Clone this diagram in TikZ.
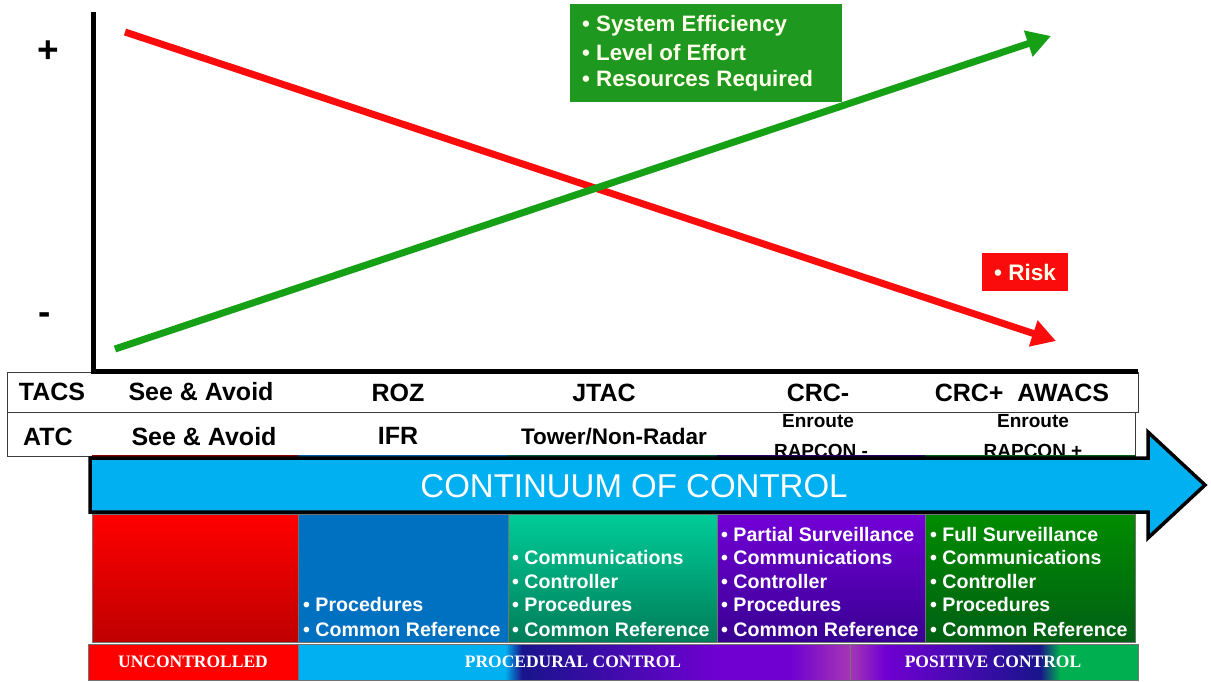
\documentclass[tikz,border=0pt]{standalone}
\usepackage{fontspec}
\setmainfont{Liberation Sans}
\newfontfamily\serifb{Liberation Serif}
\usetikzlibrary{arrows.meta}
\definecolor{cyanA}{RGB}{0,176,240}
\definecolor{riskred}{RGB}{250,12,12}
\definecolor{effgreen}{RGB}{30,152,30}
\definecolor{lineg}{RGB}{22,160,22}
\definecolor{navy}{RGB}{25,20,140}
\definecolor{purp}{RGB}{112,0,210}
\definecolor{pinkp}{RGB}{165,55,180}
\definecolor{posgreen}{RGB}{0,176,80}
\definecolor{boxblue}{RGB}{0,112,192}
\definecolor{tealtop}{RGB}{0,204,153}
\definecolor{tealbot}{RGB}{0,125,88}
\definecolor{purtop}{RGB}{115,0,215}
\definecolor{purbot}{RGB}{55,0,145}
\definecolor{grtop}{RGB}{0,140,0}
\definecolor{grbot}{RGB}{0,95,20}
\definecolor{tabline}{RGB}{60,60,60}
\definecolor{cream}{RGB}{255,255,235}
\begin{document}
\begin{tikzpicture}[x=1pt,y=-1pt,
  lbl/.style={font=\bfseries\fontsize{25}{28}\selectfont, inner sep=0pt},
  lbls/.style={font=\bfseries\fontsize{19}{21}\selectfont, inner sep=0pt},
  lst/.style={font=\bfseries\fontsize{19.6}{22}\selectfont, text=white, anchor=west, inner sep=0pt},
  effl/.style={font=\bfseries\fontsize{22.3}{25}\selectfont, text=cream, anchor=west, inner sep=0pt},
  botl/.style={font=\serifb\bfseries\fontsize{17.5}{20}\selectfont, text=white, inner sep=0pt},
  cell/.style={draw=tabline, line width=1.2pt, fill=white, anchor=north west, inner sep=0pt},
  trend/.style={line width=7pt, -{Triangle[length=24pt,width=26pt]}},
  boxedge/.style={draw=black!55, line width=0.8pt}
]
\useasboundingbox[fill=white] (0,0) rectangle (1211,681);

% plus / minus
\node[font=\bfseries\fontsize{37}{40}\selectfont, inner sep=0pt] (plus) at (48,52) {+};
\node[font=\bfseries\fontsize{37}{40}\selectfont, inner sep=0pt] (minus) at (45,319) {-};

% trend lines
\coordinate (r0) at (125,32); \coordinate (r1) at (1056,341);
\coordinate (g0) at (115,349); \coordinate (g1) at (1051,36);
\draw[trend, draw=riskred, fill=riskred] (r0) -- (r1);
\draw[trend, draw=lineg, fill=lineg] (g0) -- (g1);

% labels
\node[fill=effgreen, minimum width=272pt, minimum height=98pt, anchor=north west, inner sep=0pt] (effbox) at (570,4) {};
\node[effl] (e1) at (582,26) {• System Efficiency};
\node[effl] (e2) at (582,53) {• Level of Effort};
\node[effl] (e3) at (582,81) {• Resources Required};
\node[fill=riskred, minimum width=86pt, minimum height=38pt, anchor=north west, inner sep=0pt] (riskbox) at (982,253) {};
\node[font=\bfseries\fontsize{22.5}{25}\selectfont, text=cream, inner sep=0pt] (risk) at (1025,272) {• Risk};

% table
\node[cell, minimum width=1131pt, minimum height=40pt] (row1) at (7,372) {};
\node[cell, minimum width=1128pt, minimum height=44pt] (row2) at (7,412) {};
\node[lbl] (t1) at (52,392) {TACS};
\node[lbl] (t2) at (201,392) {See \& Avoid};
\node[lbl] (t3) at (398,393) {ROZ};
\node[lbl] (t4) at (604,393) {JTAC};
\node[lbl] (t5) at (818,393) {CRC-};
\node[lbl] (t6) at (1022,393) {CRC+\ \ AWACS};
\node[lbl] (a1) at (48,437) {ATC};
\node[lbl] (a2) at (204,437) {See \& Avoid};
\node[lbl] (a3) at (398,436) {IFR};
\node[font=\bfseries\fontsize{22.5}{25}\selectfont, inner sep=0pt] (a4) at (614,437) {Tower/Non-Radar};
\node[lbls] (a5a) at (818,421) {Enroute};
\node[lbls] (a5b) at (821,451) {RAPCON -};
\node[lbls] (a6a) at (1033,421) {Enroute};
\node[lbls] (a6b) at (1033,451) {RAPCON +};

% axes
\coordinate (ytop) at (93.5,12); \coordinate (orig) at (93.5,371); \coordinate (xend) at (1138,371);
\draw[line width=5pt] (ytop) -- (orig) -- (xend);

% coloured strips peeking above arrow
\fill[red!50!black] (92,455) rectangle (298,461);
\fill[boxblue!80!black] (298,455) rectangle (508,461);
\fill[tealbot!70!black] (508,455) rectangle (717,461);
\fill[purbot!70!black] (717,455) rectangle (925,461);
\fill[grbot] (925,455) rectangle (1135,461);

% big arrow
\filldraw[fill=cyanA, draw=black, line width=3.5pt, line join=miter]
  (90,458) -- (1148,458) -- (1148,432) -- (1205,485) -- (1148,538) -- (1148,512) -- (90,512) -- cycle;
\node[font=\fontsize{33}{36}\selectfont, text=white, inner sep=0pt] (cont) at (634,486) {CONTINUUM OF CONTROL};

% columns
\shade[top color=red, bottom color=red!75!black] (92,514) rectangle (298,642);
\fill[boxblue] (298,514) rectangle (508,642);
\shade[top color=tealtop, bottom color=tealbot] (508,514) rectangle (717,642);
\shade[top color=purtop, bottom color=purbot] (717,514) rectangle (925,642);
\shade[top color=grtop, bottom color=grbot] (925,514) rectangle (1135,642);
\draw[boxedge] (92,514) rectangle (298,642);
\draw[boxedge] (298,514) rectangle (508,642);
\draw[boxedge] (508,514) rectangle (717,642);
\draw[boxedge] (717,514) rectangle (925,642);
\draw[boxedge] (925,514) rectangle (1135,642);

\node[lst] (b1) at (303,604) {• Procedures};
\node[lst] (b2) at (303,629) {• Common Reference};

\node[lst] (c1) at (512,557) {• Communications};
\node[lst] (c2) at (512,581) {• Controller};
\node[lst] (c3) at (512,604) {• Procedures};
\node[lst] (c4) at (512,629) {• Common Reference};

\node[lst] (d0) at (721,534) {• Partial Surveillance};
\node[lst] (d1) at (721,557) {• Communications};
\node[lst] (d2) at (721,581) {• Controller};
\node[lst] (d3) at (721,604) {• Procedures};
\node[lst] (d4) at (721,629) {• Common Reference};

\node[lst] (f0) at (930,534) {• Full Surveillance};
\node[lst] (f1) at (930,557) {• Communications};
\node[lst] (f2) at (930,581) {• Controller};
\node[lst] (f3) at (930,604) {• Procedures};
\node[lst] (f4) at (930,629) {• Common Reference};

% bottom band
\fill[red] (88,644) rectangle (298,680);
\fill[cyanA] (298,644) rectangle (505,680);
\shade[left color=cyanA, right color=navy] (505,644) rectangle (522,680);
\shade[left color=navy, right color=purp] (522,644) rectangle (720,680);
\fill[purp] (720,644) rectangle (790,680);
\shade[left color=purp, right color=pinkp] (790,644) rectangle (850,680);
\shade[left color=pinkp, right color=purp] (850,644) rectangle (885,680);
\shade[left color=purp, right color=navy] (885,644) rectangle (1040,680);
\shade[left color=navy, right color=posgreen] (1040,644) rectangle (1060,680);
\fill[posgreen] (1060,644) rectangle (1138,680);
\draw[boxedge] (88,644) rectangle (298,680);
\draw[boxedge] (298,644) rectangle (850,680);
\draw[boxedge] (850,644) rectangle (1138,680);
\node[botl] (u) at (193,662) {UNCONTROLLED};
\node[botl] (p) at (573,662) {PROCEDURAL CONTROL};
\node[botl] (q) at (993,662) {POSITIVE CONTROL};
\end{tikzpicture}
\end{document}
